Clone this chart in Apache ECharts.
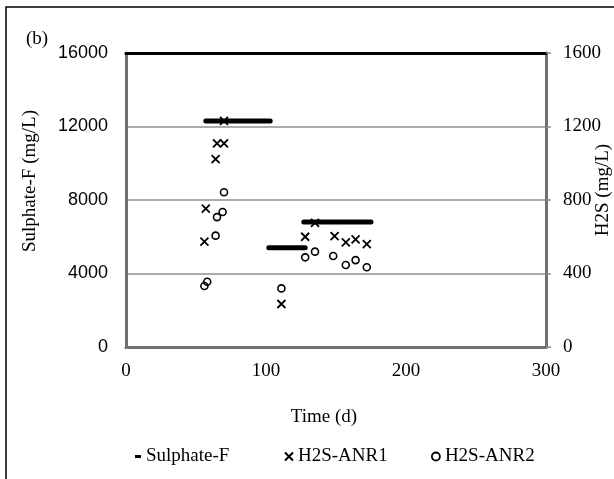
<!DOCTYPE html>
<html>
<head>
<meta charset="utf-8">
<script src="https://cdn.jsdelivr.net/npm/echarts@6/dist/echarts.min.js"></script>
<style>html,body{margin:0;padding:0;background:#fff}#c{width:614px;height:479px}</style>
</head>
<body>
<div id="c"></div>
<script>
// Sulphate-F plateaus (left axis, mg/L)
var sulphateStart = [57, 102, 127];
var sulphateEnd = [103, 128, 175];
var sulphateValue = [12300, 5400, 6800];
// H2S-ANR1 (right axis, mg/L)
var anr1Days = [56, 57, 64, 65, 70, 70, 111, 128, 135, 149, 157, 164, 172];
var anr1Vals = [573, 753, 1023, 1108, 1108, 1231, 234, 600, 676, 604, 570, 586, 560];
// H2S-ANR2 (right axis, mg/L)
var anr2Days = [56, 58, 64, 65, 69, 70, 111, 128, 135, 148, 157, 164, 172];
var anr2Vals = [332, 355, 606, 707, 735, 842, 319, 488, 519, 495, 446, 473, 434];
// axes
var xTicks = [0, 100, 200, 300];
var leftTicks = [0, 4000, 8000, 12000, 16000];
var rightTicks = [0, 400, 800, 1200, 1600];

var sulphateData = [];
for (var i = 0; i < sulphateStart.length; i++) {
  if (i > 0) sulphateData.push(['-', '-']);
  sulphateData.push([sulphateStart[i], sulphateValue[i]]);
  sulphateData.push([sulphateEnd[i], sulphateValue[i]]);
}
var anr1Data = anr1Days.map(function (d, i) { return [d, anr1Vals[i]]; });
var anr2Data = anr2Days.map(function (d, i) { return [d, anr2Vals[i]]; });

var SERIF = "'Liberation Serif', serif";
var FS = 19;
var SANS = "'Liberation Sans', Arial, sans-serif";
var crossPath = 'path://M0,0L10,10M10,0L0,10';
var axisGray = '#707070';
function plain(v) { return String(v); }

var chart = echarts.init(document.getElementById('c'), null, {renderer: 'canvas'});
chart.setOption({
  animation: false,
  backgroundColor: '#fff',
  grid: {left: 126, right: 68, top: 53, bottom: 132, containLabel: false},
  xAxis: [{
    type: 'value',
    min: xTicks[0], max: xTicks[xTicks.length - 1], interval: xTicks[1] - xTicks[0],
    axisLine: {show: true, lineStyle: {color: axisGray, width: 3}},
    axisTick: {show: false},
    splitLine: {show: false},
    axisLabel: {color: '#000', fontFamily: SERIF, fontSize: FS, margin: 15, formatter: plain}
  }, {
    type: 'value', position: 'top',
    min: xTicks[0], max: xTicks[xTicks.length - 1],
    axisLine: {show: true, onZero: false, lineStyle: {color: '#000', width: 3}},
    axisTick: {show: false}, axisLabel: {show: false}, splitLine: {show: false}
  }],
  yAxis: [{
    type: 'value', position: 'left',
    min: leftTicks[0], max: leftTicks[leftTicks.length - 1], interval: leftTicks[1] - leftTicks[0],
    axisLine: {show: true, onZero: false, lineStyle: {color: axisGray, width: 3}},
    axisTick: {show: false},
    splitLine: {show: true, lineStyle: {color: '#8f8f8f', width: 1.5}},
    axisLabel: {color: '#000', fontFamily: SANS, fontSize: 18, margin: 18, formatter: plain}
  }, {
    type: 'value', position: 'right',
    min: rightTicks[0], max: rightTicks[rightTicks.length - 1], interval: rightTicks[1] - rightTicks[0],
    axisLine: {show: true, onZero: false, lineStyle: {color: axisGray, width: 3}},
    axisTick: {show: true, length: 5, lineStyle: {color: '#8a8a8a', width: 1.5}},
    splitLine: {show: false},
    axisLabel: {color: '#000', fontFamily: SERIF, fontSize: FS, margin: 17, formatter: plain}
  }],
  legend: [{
    left: 130, top: 442, itemWidth: 6, itemHeight: 3, itemGap: 10,
    data: [{name: 'Sulphate-F', icon: 'rect', itemStyle: {color: '#000'}}],
    textStyle: {fontFamily: SERIF, fontSize: FS, color: '#000'}
  }, {
    left: 279, top: 442, itemWidth: 8, itemHeight: 8, itemGap: 10,
    data: [{name: 'H2S-ANR1', icon: crossPath,
      itemStyle: {color: 'rgba(0,0,0,0)', borderColor: '#000', borderWidth: 2}}],
    textStyle: {fontFamily: SERIF, fontSize: FS, color: '#000'}
  }, {
    left: 426, top: 442, itemWidth: 8, itemHeight: 8, itemGap: 10,
    data: [{name: 'H2S-ANR2', icon: 'circle',
      itemStyle: {color: '#fff', borderColor: '#000', borderWidth: 1.8}}],
    textStyle: {fontFamily: SERIF, fontSize: FS, color: '#000'}
  }],
  series: [{
    name: 'Sulphate-F', type: 'line', yAxisIndex: 0,
    data: sulphateData, symbol: 'none', connectNulls: false,
    lineStyle: {color: '#000', width: 5, cap: 'round'},
    itemStyle: {color: '#000'}, z: 3
  }, {
    name: 'H2S-ANR1', type: 'scatter', yAxisIndex: 1,
    data: anr1Data, symbol: crossPath, symbolSize: 8,
    itemStyle: {color: 'rgba(0,0,0,0)', borderColor: '#000', borderWidth: 1.8, opacity: 1}, z: 4
  }, {
    name: 'H2S-ANR2', type: 'scatter', yAxisIndex: 1,
    data: anr2Data, symbol: 'circle', symbolSize: 7,
    itemStyle: {color: 'rgba(255,255,255,0)', borderColor: '#000', borderWidth: 1.6, opacity: 1}, z: 4
  }],
  graphic: [{
    type: 'rect', silent: true, z: 0,
    shape: {x: 6, y: 7, width: 620, height: 490},
    style: {fill: 'none', stroke: '#000', lineWidth: 1.5}
  }, {
    type: 'text', x: 26, y: 39,
    style: {text: '(b)', fontFamily: SERIF, fontSize: FS, fill: '#000', textAlign: 'left', textVerticalAlign: 'middle'}
  }, {
    type: 'text', x: 30, y: 181, rotation: Math.PI / 2,
    style: {text: 'Sulphate-F (mg/L)', fontFamily: SERIF, fontSize: FS, fill: '#000', textAlign: 'center', textVerticalAlign: 'middle'}
  }, {
    type: 'text', x: 603, y: 190, rotation: Math.PI / 2,
    style: {text: 'H2S (mg/L)', fontFamily: SERIF, fontSize: FS, fill: '#000', textAlign: 'center', textVerticalAlign: 'middle'}
  }, {
    type: 'text', x: 324, y: 417,
    style: {text: 'Time (d)', fontFamily: SERIF, fontSize: FS, fill: '#000', textAlign: 'center', textVerticalAlign: 'middle'}
  }]
});
</script>
</body>
</html>
